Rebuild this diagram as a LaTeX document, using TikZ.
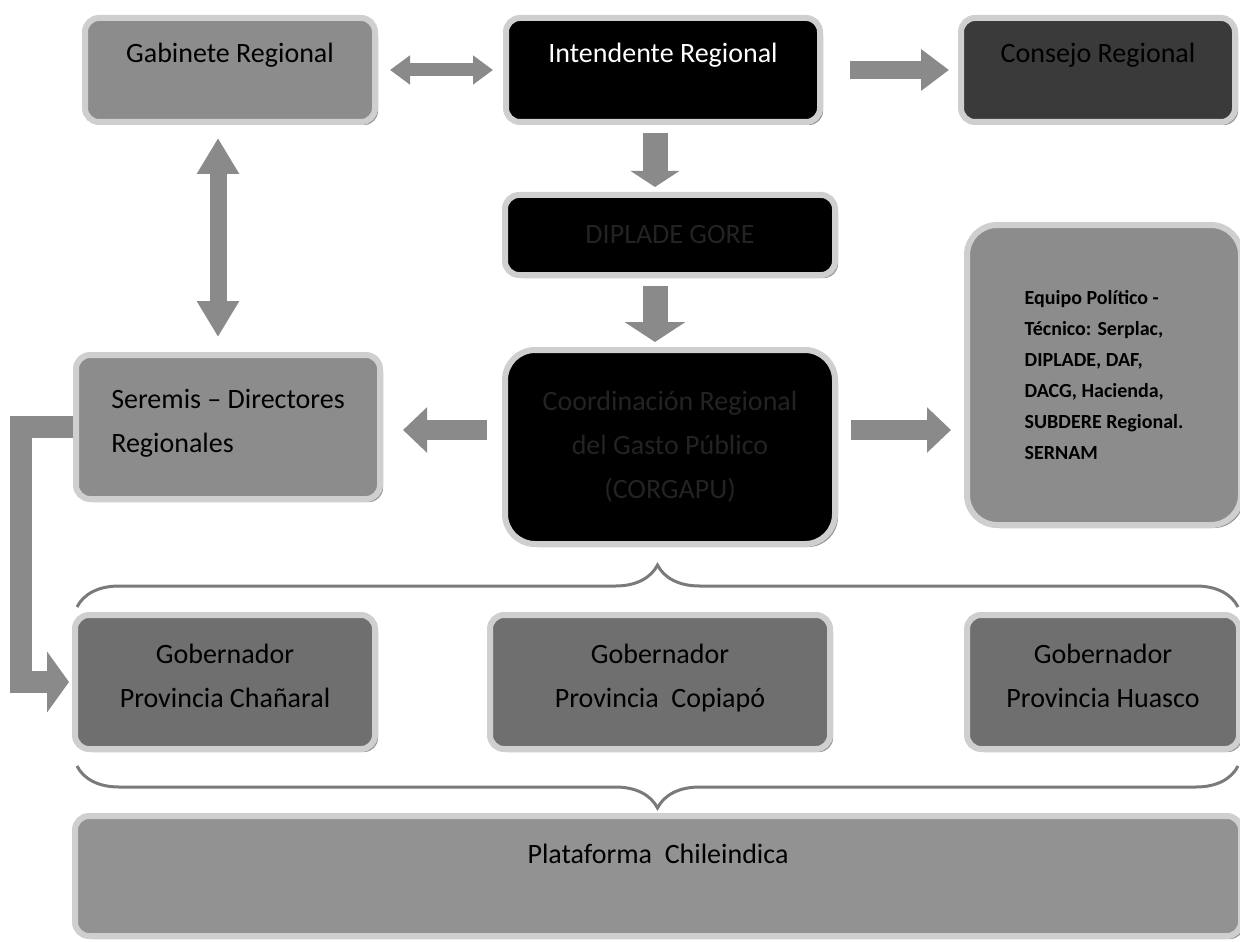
\documentclass[tikz,border=0pt]{standalone}
\usepackage{fontspec}
\setmainfont{Carlito}
\usepackage{xcolor}
\usetikzlibrary{arrows.meta,shadows,decorations.pathreplacing}

\definecolor{boxgray}{HTML}{8C8C8C}
\definecolor{gobgray}{HTML}{6F6F6F}
\definecolor{consgray}{HTML}{3A3A3A}
\definecolor{rimgray}{HTML}{CFCFCF}
\definecolor{arrowgray}{HTML}{8A8A8A}
\definecolor{bracegray}{HTML}{7A7A7A}
\definecolor{dimtext}{HTML}{232323}

\begin{document}
\begin{tikzpicture}[x=0.5pt,y=-0.5pt,
    box/.style={draw=rimgray, line width=3pt, rounded corners=7pt, align=center,
      drop shadow={shadow xshift=1.5pt, shadow yshift=-1.5pt, fill=black!85},
      font=\fontsize{14}{22}\selectfont, inner sep=2pt},
    graybox/.style={box, fill=boxgray, text=black},
    blackbox/.style={box, fill=black, text=white},
    gobbox/.style={graybox, fill=gobgray, minimum height=67pt},
    uptext/.style={text depth=#1},
    fat/.style n args={3}{draw=arrowgray, line width=#1, line join=miter,
      -{Triangle[length=#3,width=#2]}},
    fatboth/.style n args={3}{draw=arrowgray, line width=#1,
      {Triangle[length=#3,width=#2]}-{Triangle[length=#3,width=#2]}},
    brace/.style={draw=bracegray, line width=1.5pt, decorate,
      decoration={brace, amplitude=21pt}}]
  \useasboundingbox (0,0) rectangle (1240,941);

  % braces round the governors
  \draw[brace] (77,607) -- (1238,607);
  \draw[brace] (1238,766) -- (77,766);

  \node[graybox, uptext=17pt, minimum width=145pt, minimum height=52pt] (gabinete) at (230,70) {Gabinete Regional};
  \node[blackbox, uptext=17pt, minimum width=157pt, minimum height=52pt] (intendente) at (663,70) {Intendente Regional};
  \node[box, fill=consgray, text=black, uptext=17pt, minimum width=137pt, minimum height=52pt] (consejo) at (1098,70) {Consejo Regional};
  \node[blackbox, text=dimtext, minimum width=165pt, minimum height=40pt] (diplade) at (670,235) {DIPLADE GORE};
  \node[graybox, rounded corners=15pt, minimum width=137pt, minimum height=150pt, align=left,
    font=\fontsize{10}{15.5}\selectfont\bfseries] (equipo) at (1104,375)
    {Equipo Político -\\Técnico: Serplac,\\DIPLADE, DAF,\\DACG, Hacienda,\\SUBDERE Regional.\\SERNAM};
  \node[graybox, align=left, minimum width=152pt, minimum height=72pt] (seremis) at (228,427) {Seremis -- Directores\\Regionales\strut};
  \node[blackbox, text=dimtext, rounded corners=15pt, minimum width=165pt, minimum height=97pt] (corgapu) at (670,447)
    {Coordinación Regional\\del Gasto Público\\(CORGAPU)};

  \node[gobbox, minimum width=150pt] (gobchan) at (225,682) {Gobernador\\Provincia Chañaral\strut};
  \node[gobbox, minimum width=170pt] (gobcop) at (660,682) {Gobernador\\Provincia~ Copiapó\strut};
  \node[gobbox, minimum width=136pt] (gobhua) at (1103,682) {Gobernador\\Provincia Huasco\strut};

  \node[graybox, fill=boxgray!95!white, uptext=22pt, minimum width=583pt, minimum height=60pt] (plataforma) at (658,876) {Plataforma~ Chileindica};

  \coordinate (lvl) at (670,430);

  \draw[fatboth={6.5pt}{14pt}{10pt}, shorten <=6pt, shorten >=5pt] (gabinete) -- (intendente);
  \draw[fat={9pt}{20pt}{14pt}, shorten <=13.5pt, shorten >=4.5pt] (intendente) -- (consejo);
  \draw[fat={12.5pt}{24pt}{8pt}, shorten <=4pt, shorten >=2.5pt]
    ([xshift=-4pt]intendente.south) -- ([xshift=-7.5pt]diplade.north);
  \draw[fat={12.5pt}{30pt}{10pt}, shorten <=4pt, shorten >=2.5pt]
    ([xshift=-7.5pt]diplade.south) -- ([xshift=-7.5pt]corgapu.north);
  \draw[fatboth={8.5pt}{20pt}{18pt}, shorten <=6.5pt, shorten >=7.5pt]
    ([xshift=-6pt]gabinete.south) -- ([xshift=-5pt]seremis.north);
  \draw[fat={10pt}{22pt}{12pt}, shorten <=7.5pt, shorten >=10pt] (lvl -| corgapu.west) -- (lvl -| seremis.east);
  \draw[fat={10pt}{22pt}{12pt}, shorten <=6.5pt, shorten >=6.5pt] (lvl -| corgapu.east) -- (lvl -| equipo.west);
  \draw[fat={11pt}{30pt}{11pt}, shorten >=1.5pt] (seremis.west) -- ++(-26pt,0) |- (gobchan.west);
\end{tikzpicture}
\end{document}
